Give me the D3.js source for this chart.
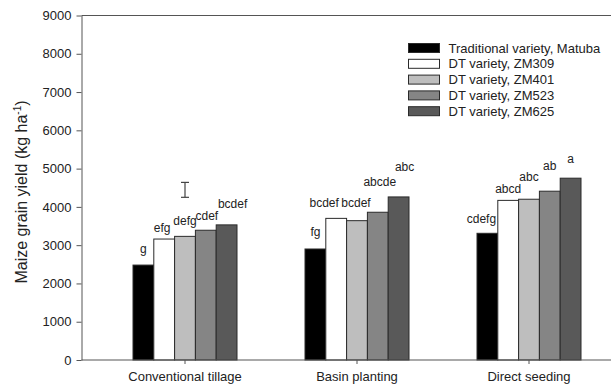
<!DOCTYPE html>
<html>
<head>
<meta charset="utf-8">
<script src="https://cdn.jsdelivr.net/npm/d3@7"></script>
<style>
  body { margin: 0; background: #fff; }
  text { font-family: "Liberation Sans", Arial, sans-serif; fill: #222; }
</style>
</head>
<body>
<div id="chart"></div>
<script>
var width = 611;
var height = 386;

// data
var categories = ["Conventional tillage", "Basin planting", "Direct seeding"];
var series = ["Traditional variety, Matuba", "DT variety, ZM309", "DT variety, ZM401", "DT variety, ZM523", "DT variety, ZM625"];
var colors = ["#000000", "#ffffff", "#bebebe", "#858585", "#595959"];

// yield per series, one value per category
var yields = [
    [2480, 2900, 3310],
    [3160, 3700, 4170],
    [3230, 3640, 4200],
    [3390, 3860, 4410],
    [3530, 4260, 4750]
];

// letters of significance and the height they sit at (kg/ha)
var letters = [
    ["g", "fg", "cdefg"],
    ["efg", "bcdef", "abcd"],
    ["defg", "bcdef", "abc"],
    ["cdef", "abcde", "ab"],
    ["bcdef", "abc", "a"]
];
var letterHeights = [
    [2790, 3240, 3570],
    [3340, 3990, 4360],
    [3520, 3990, 4670],
    [3650, 4540, 4960],
    [3970, 4930, 5140]
];
var letterShift = [
    [0, 0, -6],
    [-2, -12, 0],
    [0, -1, 0],
    [1, 2, 0],
    [6, 6, 0]
];

// LSD bar
var errCategory = "Conventional tillage";
var errLow = 4250;
var errHigh = 4640;

var yTicks = [0, 1000, 2000, 3000, 4000, 5000, 6000, 7000, 8000, 9000];

var svg = d3.select("#chart")
    .append("svg")
    .attr("width", width)
    .attr("height", height);

var yScale = d3.scaleLinear().domain([0, 9000]).range([360, 15.5]);
var xScale = d3.scaleBand().domain(categories).range([99, 615]).padding(0);
var xInner = d3.scaleBand().domain(series).range([-52, 52]).padding(0);

function catCenter(c) { return xScale(c) + xScale.bandwidth() / 2; }

// bars
series.forEach(function(s, i) {
    svg.append("g").selectAll("rect")
        .data(categories)
        .enter()
        .append("rect")
        .attr("x", function(c) { return catCenter(c) + xInner(s); })
        .attr("y", function(c, j) { return yScale(yields[i][j]); })
        .attr("width", xInner.bandwidth())
        .attr("height", function(c, j) { return yScale(0) - yScale(yields[i][j]); })
        .attr("fill", colors[i])
        .attr("stroke", "#2a2a2a")
        .attr("stroke-width", 1);

    svg.append("g").selectAll("text")
        .data(categories)
        .enter()
        .append("text")
        .attr("x", function(c, j) { return catCenter(c) + xInner(s) + xInner.bandwidth() / 2 + letterShift[i][j]; })
        .attr("y", function(c, j) { return yScale(letterHeights[i][j]); })
        .attr("text-anchor", "middle")
        .style("font-size", "12px")
        .text(function(c, j) { return letters[i][j]; });
});

// error bar
var ex = catCenter(errCategory);
var eb = svg.append("g").attr("stroke", "#444").attr("stroke-width", 1.2);
eb.append("line").attr("x1", ex).attr("x2", ex).attr("y1", yScale(errLow)).attr("y2", yScale(errHigh));
eb.append("line").attr("x1", ex - 4).attr("x2", ex + 4).attr("y1", yScale(errLow)).attr("y2", yScale(errLow));
eb.append("line").attr("x1", ex - 4).attr("x2", ex + 4).attr("y1", yScale(errHigh)).attr("y2", yScale(errHigh));

// y axis
var yAxis = d3.axisLeft(yScale).tickValues(yTicks).tickFormat(d3.format("d"))
    .tickSize(5).tickPadding(5).tickSizeOuter(0);
var yG = svg.append("g")
    .attr("transform", "translate(81.5, 0)")
    .call(yAxis);
yG.select(".domain").attr("stroke", "#555");
yG.selectAll(".tick line").attr("stroke", "#555");
yG.selectAll(".tick text").style("font-size", "13px").attr("fill", "#222");

// x axis
var xAxis = d3.axisBottom(xScale).tickSize(4).tickPadding(8).tickSizeOuter(0);
var xG = svg.append("g")
    .attr("transform", "translate(0, 360)")
    .call(xAxis);
xG.select(".domain").remove();
xG.selectAll(".tick line").attr("stroke", "#555");
xG.selectAll(".tick text").style("font-size", "13px").attr("fill", "#222");
xG.append("line")
    .attr("x1", 81.5).attr("x2", width).attr("y1", 0).attr("y2", 0)
    .attr("stroke", "#555");

// top frame line
svg.append("line")
    .attr("x1", 81.5).attr("x2", width).attr("y1", 15.5).attr("y2", 15.5)
    .attr("stroke", "#555");

// y axis title
var yTitle = svg.append("text")
    .attr("transform", "translate(27, 192) rotate(-90)")
    .attr("text-anchor", "middle")
    .style("font-size", "16px");
yTitle.append("tspan").text("Maize grain yield (kg ha");
yTitle.append("tspan").attr("dy", -6).style("font-size", "10px").text("-1");
yTitle.append("tspan").attr("dy", 6).text(")");

// legend
var legend = svg.append("g").attr("transform", "translate(408.5, 43.5)");
series.forEach(function(s, i) {
    var row = legend.append("g").attr("transform", "translate(0," + (i * 15.8) + ")");
    row.append("rect")
        .attr("width", 31)
        .attr("height", 9)
        .attr("fill", colors[i])
        .attr("stroke", "#2a2a2a");
    row.append("text")
        .attr("x", 40)
        .attr("y", 9)
        .style("font-size", "13px")
        .text(s);
});
</script>
</body>
</html>
